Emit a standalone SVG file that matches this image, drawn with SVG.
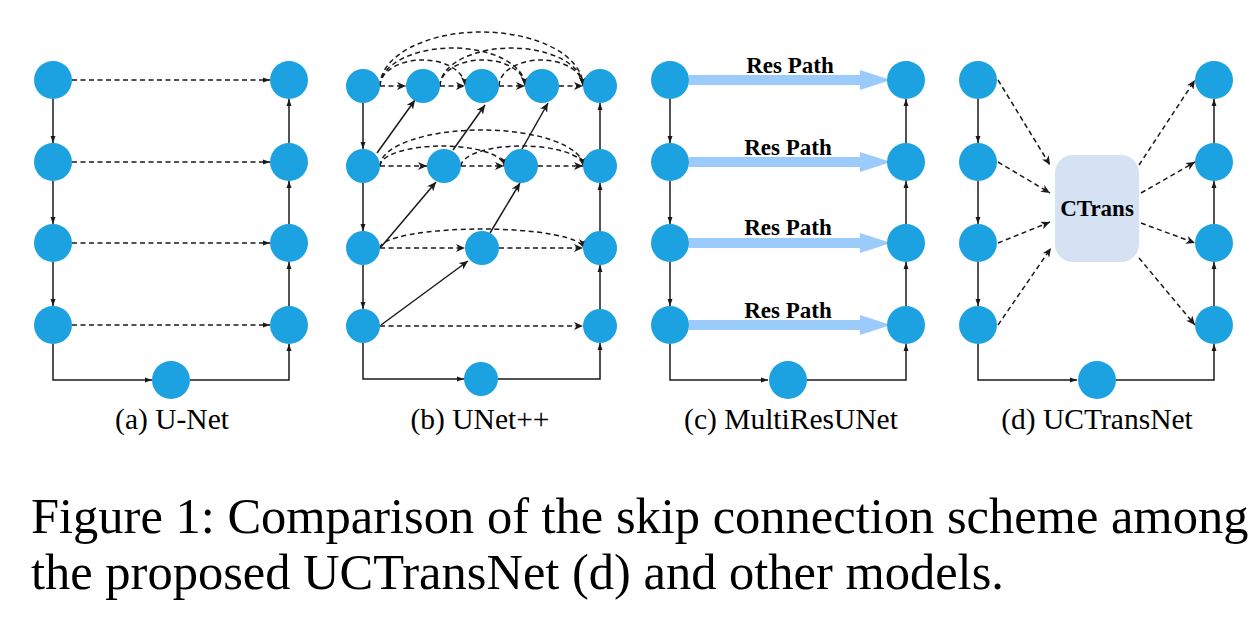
<svg xmlns="http://www.w3.org/2000/svg" width="1258" height="618" viewBox="0 0 1258 618">
<style>
.n{fill:#1ca1e1}
.s{fill:none;stroke:#1a1a1a;stroke-width:1.5}
.d{fill:none;stroke:#1a1a1a;stroke-width:1.5;stroke-dasharray:5 3.5}
.sa{marker-end:url(#ah)}
.ba{marker-end:url(#st)}
.rp{fill:#9acbfa}
.lbl{font-family:"Liberation Serif","Times New Roman",serif;font-size:29.5px;fill:#000;text-anchor:middle}
.bold{font-family:"Liberation Serif","Times New Roman",serif;font-weight:bold;fill:#000;text-anchor:middle}
.cap{font-family:"Liberation Serif","Times New Roman",serif;font-size:50.5px;fill:#000}
</style>
<defs>
<marker id="ah" markerUnits="userSpaceOnUse" markerWidth="7" markerHeight="6" viewBox="0 0 7 6" refX="7" refY="3" orient="auto">
<path d="M0,0.5 L7,3 L0,5.5 Z" fill="#1a1a1a"/>
</marker>
<marker id="st" markerUnits="userSpaceOnUse" markerWidth="9" markerHeight="8" viewBox="0 0 9 8" refX="9" refY="4" orient="auto">
<path d="M0,0 L9,4 L0,8 L2.5,4 Z" fill="#1a1a1a"/>
</marker>
</defs>

<g id="connectors">
<!-- (a) U-Net -->
<path class="s sa" d="M53,99 V143"/>
<path class="s sa" d="M53,181 V224"/>
<path class="s sa" d="M53,262 V306"/>
<path class="s sa" d="M289,306 V262"/>
<path class="s sa" d="M289,224 V181"/>
<path class="s sa" d="M289,143 V99"/>
<path class="s sa" d="M53,344 V380 H152"/>
<path class="s sa" d="M190,380 H289 V344"/>
<path class="d sa" d="M72,80 H270"/>
<path class="d sa" d="M72,162 H270"/>
<path class="d sa" d="M72,243 H270"/>
<path class="d sa" d="M72,325 H270"/>

<!-- (b) UNet++ -->
<path class="s sa" d="M363,103 V149"/>
<path class="s sa" d="M363,183 V231"/>
<path class="s sa" d="M363,265 V309"/>
<path class="s sa" d="M600,309 V265"/>
<path class="s sa" d="M600,231 V183"/>
<path class="s sa" d="M600,149 V103"/>
<path class="s sa" d="M363,343 V379 H464"/>
<path class="s sa" d="M498,379 H600 V343"/>
<path class="d ba" d="M380,86 H406"/>
<path class="d ba" d="M440,86 H465"/>
<path class="d ba" d="M499,86 H525"/>
<path class="d ba" d="M559,86 H583"/>
<path class="d ba" d="M380,166 H427"/>
<path class="d ba" d="M461,166 H504"/>
<path class="d ba" d="M538,166 H583"/>
<path class="d ba" d="M380,248 H465"/>
<path class="d ba" d="M499,248 H583"/>
<path class="d ba" d="M380,326 H583"/>
<path class="d ba" d="M380,86 A42.5,26 0 0 1 465,86"/>
<path class="d ba" d="M440,86 A42.5,26 0 0 1 525,86"/>
<path class="d ba" d="M499,86 A42,26 0 0 1 583,86"/>
<path class="d ba" d="M380,86 A72.5,38 0 0 1 525,86"/>
<path class="d ba" d="M440,86 A71.5,38 0 0 1 583,86"/>
<path class="d ba" d="M380,86 A101.5,54 0 0 1 583,86"/>
<path class="d ba" d="M380,166 A62,20 0 0 1 504,166"/>
<path class="d ba" d="M461,166 A61,20 0 0 1 583,166"/>
<path class="d ba" d="M380,166 A101.5,36 0 0 1 583,166"/>
<path class="d ba" d="M380,248 A101.5,19 0 0 1 583,248"/>
<path class="s ba" d="M377,153 L415,100"/>
<path class="s ba" d="M453,150 L485,105"/>
<path class="s ba" d="M522,149 L548,103"/>
<path class="s ba" d="M381,247 L436,182"/>
<path class="s ba" d="M490,233 L520,183"/>
<path class="s ba" d="M381,325 L468,261"/>

<!-- (c) MultiResUNet -->
<path class="s sa" d="M670,99 V143"/>
<path class="s sa" d="M670,181 V224"/>
<path class="s sa" d="M670,262 V306"/>
<path class="s sa" d="M906,306 V262"/>
<path class="s sa" d="M906,224 V181"/>
<path class="s sa" d="M906,143 V99"/>
<path class="s sa" d="M670,344 V380 H768"/>
<path class="s sa" d="M807,380 H906 V344"/>
<polygon class="rp" points="689,75 860,75 860,70 891,80 860,90 860,85 689,85"/>
<polygon class="rp" points="689,157 860,157 860,152 891,162 860,172 860,167 689,167"/>
<polygon class="rp" points="689,238 860,238 860,233 891,243 860,253 860,248 689,248"/>
<polygon class="rp" points="689,320 860,320 860,315 891,325 860,335 860,330 689,330"/>

<!-- (d) UCTransNet -->
<path class="s sa" d="M978,99 V143"/>
<path class="s sa" d="M978,181 V224"/>
<path class="s sa" d="M978,262 V306"/>
<path class="s sa" d="M1214,306 V262"/>
<path class="s sa" d="M1214,224 V181"/>
<path class="s sa" d="M1214,143 V99"/>
<path class="s sa" d="M978,344 V380 H1077"/>
<path class="s sa" d="M1116,380 H1214 V344"/>
<path class="d ba" d="M998,80 L1050,165"/>
<path class="d ba" d="M998,162 L1050,193"/>
<path class="d ba" d="M998,243 L1050,222"/>
<path class="d ba" d="M998,325 L1051,248"/>
<path class="d ba" d="M1139,165 L1195,80"/>
<path class="d ba" d="M1141,193 L1195,162"/>
<path class="d ba" d="M1141,223 L1195,243"/>
<path class="d ba" d="M1139,258 L1195,325"/>
</g>

<g id="res-labels">
<text class="bold" x="790" y="73" font-size="23">Res Path</text>
<text class="bold" x="788" y="155" font-size="23">Res Path</text>
<text class="bold" x="788" y="235" font-size="23">Res Path</text>
<text class="bold" x="788" y="318" font-size="23">Res Path</text>
</g>

<!-- (a) nodes -->
<g id="a-e1"><circle class="n" cx="53" cy="80" r="19"/></g>
<g id="a-e2"><circle class="n" cx="53" cy="162" r="19"/></g>
<g id="a-e3"><circle class="n" cx="53" cy="243" r="19"/></g>
<g id="a-e4"><circle class="n" cx="53" cy="325" r="19"/></g>
<g id="a-d1"><circle class="n" cx="289" cy="80" r="19"/></g>
<g id="a-d2"><circle class="n" cx="289" cy="162" r="19"/></g>
<g id="a-d3"><circle class="n" cx="289" cy="243" r="19"/></g>
<g id="a-d4"><circle class="n" cx="289" cy="325" r="19"/></g>
<g id="a-bottom"><circle class="n" cx="171" cy="380" r="19"/></g>

<!-- (b) nodes -->
<g id="b-x00"><circle class="n" cx="363" cy="86" r="17"/></g>
<g id="b-x01"><circle class="n" cx="423" cy="86" r="17"/></g>
<g id="b-x02"><circle class="n" cx="482" cy="86" r="17"/></g>
<g id="b-x03"><circle class="n" cx="542" cy="86" r="17"/></g>
<g id="b-x04"><circle class="n" cx="600" cy="86" r="17"/></g>
<g id="b-x10"><circle class="n" cx="363" cy="166" r="17"/></g>
<g id="b-x11"><circle class="n" cx="444" cy="166" r="17"/></g>
<g id="b-x12"><circle class="n" cx="521" cy="166" r="17"/></g>
<g id="b-x13"><circle class="n" cx="600" cy="166" r="17"/></g>
<g id="b-x20"><circle class="n" cx="363" cy="248" r="17"/></g>
<g id="b-x21"><circle class="n" cx="482" cy="248" r="17"/></g>
<g id="b-x22"><circle class="n" cx="600" cy="248" r="17"/></g>
<g id="b-x30"><circle class="n" cx="363" cy="326" r="17"/></g>
<g id="b-x31"><circle class="n" cx="600" cy="326" r="17"/></g>
<g id="b-bottom"><circle class="n" cx="481" cy="379" r="17"/></g>

<!-- (c) nodes -->
<g id="c-e1"><circle class="n" cx="670" cy="80" r="19"/></g>
<g id="c-e2"><circle class="n" cx="670" cy="162" r="19"/></g>
<g id="c-e3"><circle class="n" cx="670" cy="243" r="19"/></g>
<g id="c-e4"><circle class="n" cx="670" cy="325" r="19"/></g>
<g id="c-d1"><circle class="n" cx="906" cy="80" r="19"/></g>
<g id="c-d2"><circle class="n" cx="906" cy="162" r="19"/></g>
<g id="c-d3"><circle class="n" cx="906" cy="243" r="19"/></g>
<g id="c-d4"><circle class="n" cx="906" cy="325" r="19"/></g>
<g id="c-bottom"><circle class="n" cx="788" cy="380" r="19"/></g>

<!-- (d) nodes -->
<g id="d-e1"><circle class="n" cx="978" cy="80" r="19"/></g>
<g id="d-e2"><circle class="n" cx="978" cy="162" r="19"/></g>
<g id="d-e3"><circle class="n" cx="978" cy="243" r="19"/></g>
<g id="d-e4"><circle class="n" cx="978" cy="325" r="19"/></g>
<g id="d-d1"><circle class="n" cx="1214" cy="80" r="19"/></g>
<g id="d-d2"><circle class="n" cx="1214" cy="162" r="19"/></g>
<g id="d-d3"><circle class="n" cx="1214" cy="243" r="19"/></g>
<g id="d-d4"><circle class="n" cx="1214" cy="325" r="19"/></g>
<g id="d-bottom"><circle class="n" cx="1097" cy="380" r="19"/></g>
<g id="d-ctrans">
<rect x="1055" y="155" width="84" height="107" rx="18" ry="18" fill="#d5e2f4"/>
<text class="bold" x="1097" y="216" font-size="23">CTrans</text>
</g>

<g id="captions">
<text class="lbl" x="172" y="429">(a) U-Net</text>
<text class="lbl" x="480" y="429">(b) UNet++</text>
<text class="lbl" x="791" y="429">(c) MultiResUNet</text>
<text class="lbl" x="1097" y="429">(d) UCTransNet</text>
<text class="cap" x="31" y="533">Figure 1: Comparison of the skip connection scheme among</text>
<text class="cap" x="31" y="589">the proposed UCTransNet (d) and other models.</text>
</g>
</svg>
